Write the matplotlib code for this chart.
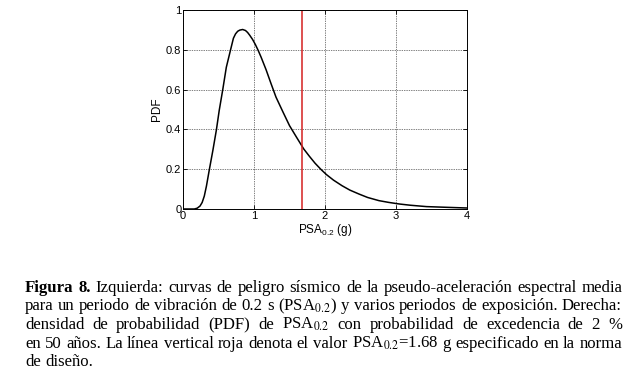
import matplotlib
matplotlib.use("Agg")
import matplotlib.pyplot as plt

# curve (PSA in g, PDF)
psa = [0.00, 0.16, 0.20, 0.24, 0.27, 0.30, 0.33, 0.37, 0.42, 0.47, 0.51, 0.56,
       0.61, 0.67, 0.71, 0.74, 0.77, 0.80, 0.84, 0.88, 0.91, 0.94, 0.98, 1.02,
       1.06, 1.10, 1.17, 1.24, 1.31, 1.41, 1.50, 1.60, 1.70, 1.78, 1.86, 1.94,
       2.02, 2.12, 2.24, 2.35, 2.48, 2.60, 2.76, 2.90, 3.05, 3.20, 3.43, 3.75,
       4.00]
pdf = [0.000, 0.000, 0.004, 0.015, 0.033, 0.065, 0.115, 0.196, 0.293, 0.397,
       0.495, 0.600, 0.712, 0.800, 0.858, 0.880, 0.893, 0.899, 0.902, 0.897,
       0.887, 0.873, 0.852, 0.826, 0.796, 0.763, 0.700, 0.630, 0.562, 0.486,
       0.419, 0.360, 0.302, 0.265, 0.230, 0.200, 0.173, 0.145, 0.117, 0.095,
       0.075, 0.058, 0.042, 0.033, 0.025, 0.019, 0.012, 0.008, 0.005]
psa_design = 1.68

xticks = [0, 1, 2, 3, 4]
yticks = [0, 0.2, 0.4, 0.6, 0.8, 1]

caption = [
    "Figura 8. Izquierda: curvas de peligro sísmico de la pseudo-aceleración espectral media",
    "para un periodo de vibración de 0.2 s (PSA$_{0.2}$) y varios periodos de exposición. Derecha:",
    "densidad de probabilidad (PDF) de PSA$_{0.2}$ con probabilidad de excedencia de 2 %",
    "en 50 años. La línea vertical roja denota el valor PSA$_{0.2}$=1.68 g especificado en la norma",
    "de diseño.",
]

plt.rcParams["mathtext.fontset"] = "custom"
plt.rcParams["mathtext.rm"] = "Liberation Sans"
plt.rcParams["mathtext.it"] = "Liberation Sans"
plt.rcParams["font.family"] = "Liberation Sans"

W, H = 640, 385
fig = plt.figure(figsize=(6.4, 3.85), dpi=100)
ax = fig.add_axes([183 / W, 1 - 209 / H, (467 - 183) / W, (209 - 10) / H])

ax.plot(psa, pdf, color="black", linewidth=1.1, solid_joinstyle="round")
ax.axvline(psa_design, color="#d42020", linewidth=1.1)
ax.set_xlim(0, 4)
ax.set_ylim(0, 1)
ax.set_xticks(xticks)
ax.set_yticks(yticks)
ax.set_xticklabels([f"{v:g}" for v in xticks])
ax.set_yticklabels([f"{v:g}" for v in yticks])
ax.tick_params(direction="in", length=3, width=0.6, labelsize=8,
               top=True, right=True, pad=1.2)
ax.grid(True, color="black", linestyle=(0, (1, 1.5)), linewidth=0.5)
for s in ax.spines.values():
    s.set_linewidth(0.7)
ax.set_xlabel("PSA$_{0.2}$ (g)", fontsize=8.5, labelpad=1)
ax.set_ylabel("PDF", fontsize=8.5, labelpad=2)

# justified caption, laid out word by word in pixel coordinates
renderer = fig.canvas.get_renderer()
left, right = 25, 622
baselines = [292, 310.5, 329, 347.5, 366]
fsize = 10.0


def make_word(w, x, y, bold, size):
    return fig.text(x / W, 1 - y / H, w, fontsize=size, family="Liberation Serif",
                    weight="bold" if bold else "normal", va="baseline", ha="left",
                    math_fontfamily="stix")


def width_of(s, size, bold=False):
    t = make_word(s, 0, -50, bold, size)
    wd = t.get_window_extent(renderer).width
    t.remove()
    return wd


# fit font size so the first line, set with normal spaces, fills the width
natural = width_of(caption[0], fsize)
fsize = fsize * (right - left) / natural * 0.985
space = width_of("x x", fsize) - width_of("xx", fsize)

for i, line in enumerate(caption):
    words = line.split(" ")
    texts = [make_word(w, 0, baselines[i], i == 0 and j < 2, fsize)
             for j, w in enumerate(words)]
    widths = [t.get_window_extent(renderer).width for t in texts]
    if i < len(caption) - 1:
        gap = (right - left - sum(widths)) / (len(words) - 1)
    else:
        gap = space
    x = left
    for t, wd in zip(texts, widths):
        t.set_x(x / W)
        x += wd + gap

fig.savefig("out.png", dpi=100)
